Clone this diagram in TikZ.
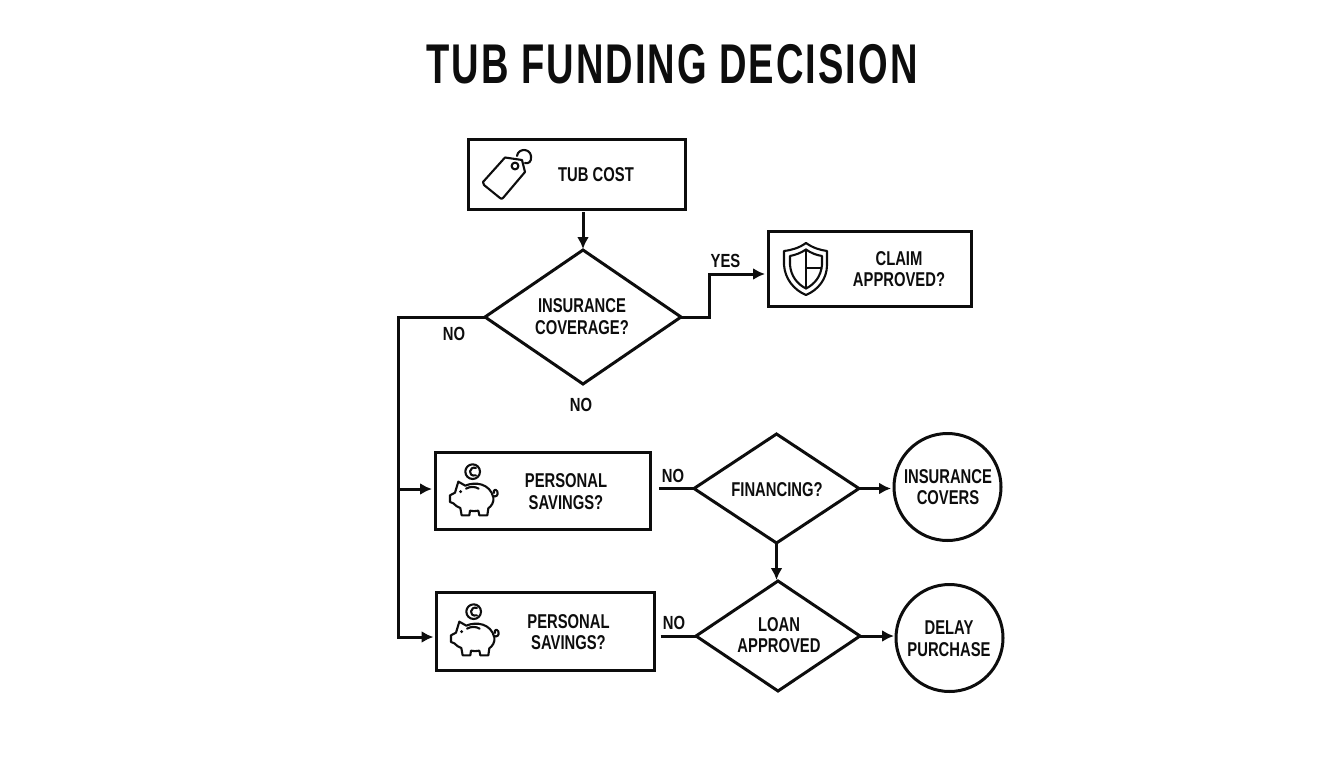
\documentclass[tikz,border=0pt]{standalone}
\usepackage{fontspec}
\setmainfont{Liberation Sans}[FakeStretch=0.74]
\newfontfamily\titlefont{Liberation Sans}[FakeStretch=0.68,LetterSpace=3.6]
\newfontfamily\labelfont{Liberation Sans}[FakeStretch=0.78]
\usetikzlibrary{shapes.geometric,arrows.meta}
\definecolor{ink}{HTML}{0D0D0D}
\tikzset{
  box/.style={draw=ink,line width=3pt,rectangle,outer sep=0pt,inner sep=0pt},
  dia/.style={draw=ink,line width=3pt,diamond,outer sep=0pt,inner sep=0pt,aspect=1.5},
  circ/.style={draw=ink,line width=3pt,circle,outer sep=0pt,inner sep=0pt},
  txt/.style={text=ink,font=\fontsize{20}{21.7}\selectfont\bfseries,align=center,inner sep=0pt},
  lbl/.style={text=ink,font=\labelfont\fontsize{19}{22}\selectfont\bfseries,inner sep=0pt},
  conn/.style={draw=ink,line width=3pt},
  arr/.style={conn,-{Latex[length=12pt,width=12pt]}},
  icon/.style={draw=ink,line width=2.1pt,line join=round,line cap=round},
  pics/piggy/.style={code={
    \begin{scope}[x=0.3333pt,y=-0.3333pt]
    \draw[icon] (205,125) -- (226,137) .. controls (255,124) and (300,130) .. (310,172)
      .. controls (312,188) and (305,197) .. (295,205) -- (292,226) -- (268,226) -- (265,212)
      .. controls (255,214) and (248,214) .. (240,212) -- (238,226) -- (215,226) -- (211,204)
      .. controls (203,202) and (196,196) .. (190,190) -- (180,186) -- (180,166) -- (195,158) -- cycle;
    \fill[ink] (212,155) circle (5);
    \draw[icon] (228,146) .. controls (240,139) and (255,139) .. (266,146);
    \draw[icon] (309,168) .. controls (318,172) and (326,166) .. (322,154) .. controls (318,146) and (308,150) .. (312,159);
    \draw[icon] (248,95) circle (22);
    \draw[icon] (258,84) .. controls (238,76) and (230,112) .. (258,106);
    \end{scope}
  }}
}
\begin{document}
\begin{tikzpicture}[x=1pt,y=-1pt]
\useasboundingbox (0,0) rectangle (1344,768);
\node[text=ink,font=\titlefont\fontsize{56}{60}\selectfont\bfseries,inner sep=0pt] (title) at (672,64) {TUB FUNDING DECISION};

% shapes
\node[box,minimum width=217pt,minimum height=70pt] (cost) at (576.5,174) {};
\node[dia,minimum width=196pt,minimum height=134pt] (d1) at (583,317) {};
\node[box,minimum width=203pt,minimum height=75pt] (claim) at (869.5,268.5) {};
\node[box,minimum width=215pt,minimum height=77pt] (s1) at (542.5,490.5) {};
\node[box,minimum width=218pt,minimum height=78pt] (s2) at (545.5,631) {};
\node[dia,minimum width=165pt,minimum height=109pt] (d2) at (776.5,488.5) {};
\node[dia,minimum width=164pt,minimum height=110pt] (d3) at (778,636) {};
\node[circ,minimum size=107pt] (c1) at (947.5,487) {};
\node[circ,minimum size=107pt] (c2) at (949.5,638) {};

% texts
\node[txt] (tcost) at (596,175) {TUB COST};
\node[txt] (td1) at (582,316.5) {INSURANCE\\COVERAGE?};
\node[txt] (tclaim) at (899,269) {CLAIM\\APPROVED?};
\node[txt] (ts1) at (566,491.5) {PERSONAL\\SAVINGS?};
\node[txt] (ts2) at (568.5,632) {PERSONAL\\SAVINGS?};
\node[txt] (td2) at (777,490) {FINANCING?};
\node[txt] (td3) at (779,635) {LOAN\\APPROVED};
\node[txt] (tc1) at (948,487) {INSURANCE\\COVERS};
\node[txt] (tc2) at (949,639) {DELAY\\PURCHASE};

% labels
\node[lbl] (lyes) at (725.5,261) {YES};
\node[lbl] (lno1) at (454,334) {NO};
\node[lbl] (lno2) at (581,405) {NO};
\node[lbl] (lno3) at (673,476) {NO};
\node[lbl] (lno4) at (674,623) {NO};

% connector waypoints
\coordinate (busTop) at (398,317);
\coordinate (busMid) at (398,489);
\coordinate (busBot) at (398,637);
\coordinate (yesA) at (709,317);
\coordinate (yesB) at (709,274);

% connectors
\draw[arr,shorten <=3pt,shorten >=1pt] (cost.south -| d1.north) -- (d1.north);
\draw[arr,shorten >=3pt] (d1.east) -- (yesA) -- (yesB) -- (yesB -| claim.west);
\draw[conn,line join=miter] (d1.west) -- (busTop) -- (busMid);
\draw[arr,shorten >=3pt] (busMid) -- (busBot) -- (busBot -| s2.west);
\draw[arr,shorten >=3pt] (busMid) -- (busMid -| s1.west);
\draw[conn,shorten <=9pt] (s1.east |- d2.west) -- (d2.west);
\draw[conn,shorten <=6pt] (s2.east |- d3.west) -- (d3.west);
\draw[arr,shorten >=3pt] (d2.east) -- (d2.east -| c1.west);
\draw[arr,shorten >=2pt] (d3.east) -- (d3.east -| c2.west);
\draw[arr,shorten >=1pt] (d2.south) -- (d2.south |- d3.north);

% tag icon
\draw[icon] (483,182) -- (505,157.5) -- (522,160) -- (525,172) -- (503,198) .. controls (502,199) and (501,199) .. (500,198) -- (484,185) .. controls (483,184) and (483,183) .. (483,182) -- cycle;
\draw[icon] (515,166) circle (3.4);
\draw[icon] (517,156) .. controls (518,148) and (530,148) .. (531,156) .. controls (532,162) and (528,164) .. (525,163);

% shield icon
\draw[icon] (806,243) .. controls (799,248) and (792,250) .. (784,251) -- (784,265) .. controls (785,279) and (794,290) .. (806,295)
  .. controls (818,290) and (827,279) .. (827,265) -- (827,251) .. controls (820,250) and (813,248) .. (806,243) -- cycle;
\draw[icon] (806,249.5) .. controls (801,253) and (795,255) .. (790,256) -- (790,265) .. controls (791,276) and (797,284) .. (806,288.5)
  .. controls (815,284) and (821,276) .. (822,265) -- (822,256) .. controls (816,255) and (811,253) .. (806,249.5) -- cycle;
\draw[icon] (806,249.5) -- (806,288.5);
\draw[icon] (806,268) -- (821,268);

% piggy icons
\pic at (390,440) {piggy};
\pic at (391,580) {piggy};
\end{tikzpicture}
\end{document}
